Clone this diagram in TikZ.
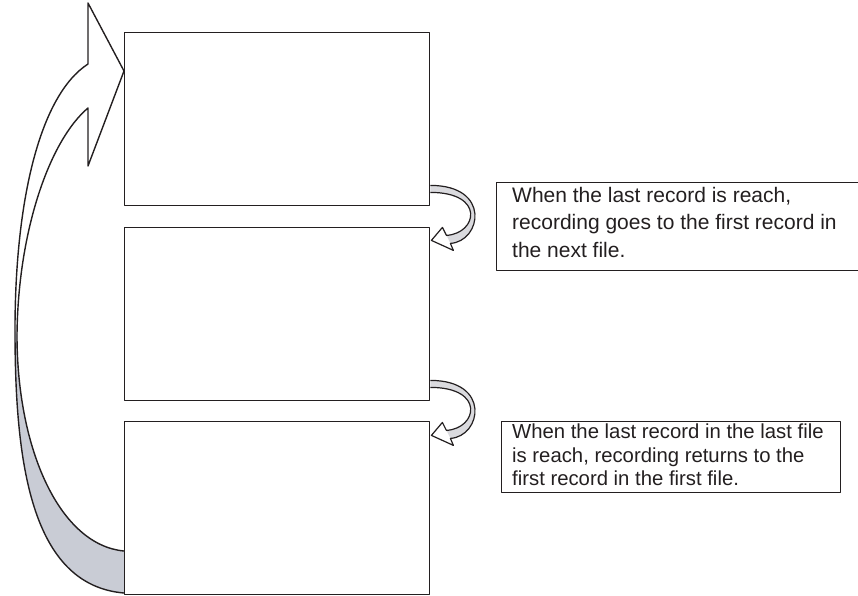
\documentclass[tikz,border=0pt]{standalone}
\usepackage{fontspec}
\setmainfont{Liberation Sans}
\definecolor{inkc}{RGB}{35,31,32}
\definecolor{shadec}{RGB}{201,204,213}
\definecolor{bandc}{RGB}{218,218,222}
\begin{document}
\begin{tikzpicture}[x=1pt,y=-1pt,line join=round,
  ink/.style={draw=inkc,line width=1.4pt},
  filebox/.style={ink,fill=white,inner sep=0pt,anchor=north west,minimum width=305pt,minimum height=173pt},
  notebox/.style={ink,inner sep=0pt,anchor=north west},
  notetext/.style={anchor=north west,inner sep=0pt,align=left,text=inkc}]
\useasboundingbox (0,0) rectangle (858,595);
\clip (0,0) rectangle (858,595);

% big return arrow: grey underside
\fill[shadec] (15,330) .. controls (15,460) and (30,585) .. (124,593) -- (124,551)
  .. controls (60,545) and (17,450) .. (17,335) -- cycle;
% big return arrow: outline
\draw[ink] (124,593) .. controls (30,585) and (15,460) .. (15,330)
  .. controls (15,200) and (40,95) .. (88,64) -- (88,3) -- (124,71) -- (88,166) -- (88,108)
  .. controls (50,140) and (18,230) .. (17,335) .. controls (17,450) and (60,545) .. (124,551);

% files
\node[filebox] (f1) at (124,32) {};
\node[filebox] (f2) at (124,227) {};
\node[filebox] (f3) at (124,421) {};

% small curved arrows from file to next file
\foreach \src in {f1,f2}{
  \begin{scope}[shift={(\src.south east)}]
    \fill[bandc] (0,-21) .. controls (61,-21) and (51,35) .. (20,37) -- (16,29)
      .. controls (47,27) and (55,-14) .. (0,-14) -- cycle;
    \fill[white] (12,21) -- (1,34) -- (23,44) -- cycle;
    \draw[ink,line width=1.2pt] (0,-21) .. controls (61,-21) and (51,35) .. (20,37) -- (23,44)
      -- (1,34) -- (12,21) -- (16,29) .. controls (47,27) and (55,-14) .. (0,-14);
  \end{scope}
}

% notes
\node[notebox,minimum width=400pt,minimum height=88pt] (n1box) at (496,182) {};
\node[notetext,font=\fontsize{21}{27.5}\selectfont] (n1) at (512,187)
  {When the last record is reach,\\recording goes to the first record in\\the next file.};
\node[notebox,minimum width=339pt,minimum height=71pt] (n2box) at (501,421) {};
\node[notetext,font=\fontsize{20.3}{23.4}\selectfont] (n2) at (512,424)
  {When the last record in the last file\\is reach, recording returns to the\\first record in the first file.};
\end{tikzpicture}
\end{document}
